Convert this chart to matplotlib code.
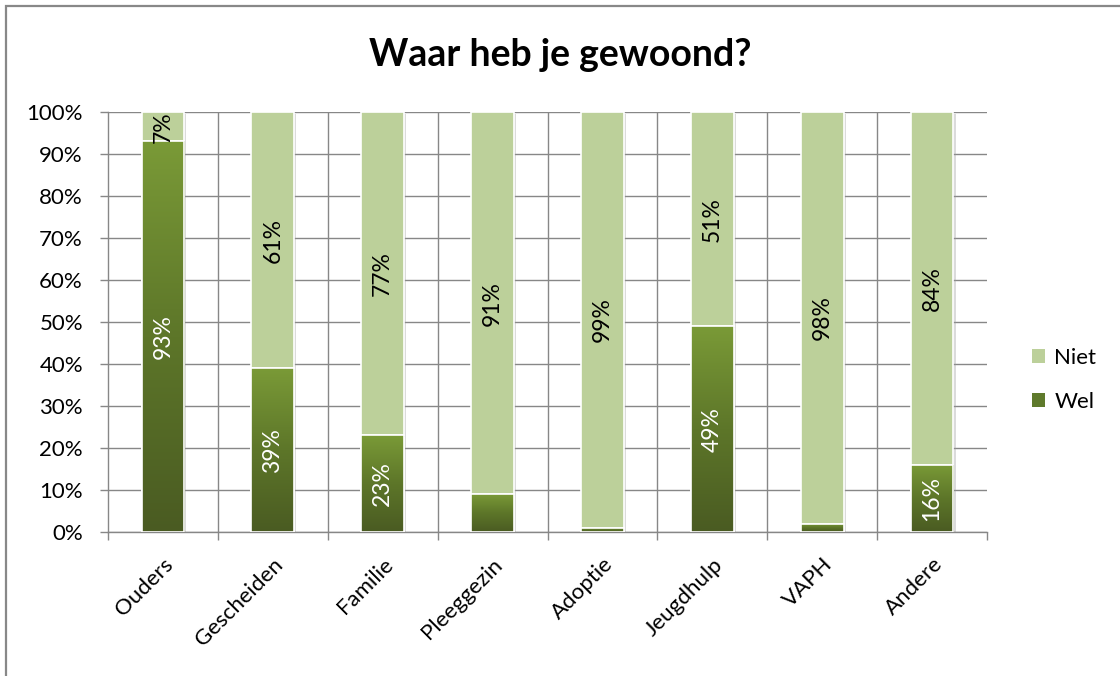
import numpy as np
import matplotlib
matplotlib.use('Agg')
import matplotlib.pyplot as plt
from matplotlib.colors import LinearSegmentedColormap
from matplotlib.patches import Rectangle, Patch
import matplotlib.patheffects as pe

categories = ['Ouders', 'Gescheiden', 'Familie', 'Pleeggezin', 'Adoptie', 'Jeugdhulp', 'VAPH', 'Andere']
wel = [93, 39, 23, 9, 1, 49, 2, 16]
niet = [7, 61, 77, 91, 99, 51, 98, 84]
wel_labels = ['93%', '39%', '23%', '', '', '49%', '', '16%']
niet_labels = ['7%', '61%', '77%', '91%', '99%', '51%', '98%', '84%']
yticks = [0, 10, 20, 30, 40, 50, 60, 70, 80, 90, 100]
ytick_labels = [f'{v}%' for v in yticks]

FONT = ['Lato', 'DejaVu Sans']
plt.rcParams['font.family'] = FONT
FS = 16

W, H = 1120, 676
fig = plt.figure(figsize=(W / 100, H / 100), dpi=100)
ax = fig.add_axes([108 / W, 1 - 532 / H, (987 - 108) / W, (532 - 112) / H])

grid_c = '#878787'
niet_c = '#bcd09a'
wel_mid = '#5f7a2c'
cmap = LinearSegmentedColormap.from_list('wel', ['#4a5b22', '#5d7629', '#7a9a37'])

x = np.arange(len(categories))
bw = 0.39
shadow = [pe.SimplePatchShadow(offset=(1.5, -1.5), shadow_rgbFace='#999999', alpha=0.35), pe.Normal()]

wel_bars = ax.bar(x, wel, bw, color=wel_mid, edgecolor='white', linewidth=1.2, zorder=2)
niet_bars = ax.bar(x, niet, bw, bottom=wel, color=niet_c, edgecolor='white', linewidth=1.2, zorder=2)
for p in list(wel_bars) + list(niet_bars):
    p.set_path_effects(shadow)

grad = np.linspace(0, 1, 256).reshape(-1, 1)
for p in wel_bars:
    x0, y0 = p.get_x(), p.get_y()
    im = ax.imshow(grad, cmap=cmap, origin='lower', aspect='auto',
                   extent=[x0, x0 + p.get_width(), y0, y0 + p.get_height()], zorder=2.5)
    im.set_clip_path(p)
ax.bar(x, wel, bw, fill=False, edgecolor='white', linewidth=1.2, zorder=3)

for i in range(len(categories)):
    if wel_labels[i]:
        ax.text(x[i], wel[i] / 2, wel_labels[i], rotation=90, ha='center', va='center',
                color='white', fontsize=FS + 0.5, zorder=4)
    ax.text(x[i], wel[i] + niet[i] / 2, niet_labels[i], rotation=90, ha='center', va='center',
            color='black', fontsize=FS + 0.5, zorder=4)

ax.set_xlim(-0.5, len(categories) - 0.5)
ax.set_ylim(0, 100)
ax.set_yticks(yticks)
ax.set_yticklabels(ytick_labels)
ax.set_xticks(x)
ax.set_xticklabels(categories, rotation=45, ha='right', rotation_mode='anchor')
ax.set_xticks(np.arange(len(categories) + 1) - 0.5, minor=True)

ax.tick_params(axis='x', which='major', length=0, pad=16, labelsize=FS)
ax.tick_params(axis='x', which='minor', length=6, width=1, color=grid_c, direction='out')
ax.tick_params(axis='y', length=6, width=1, color=grid_c, pad=12, labelsize=FS)

ax.grid(axis='y', which='major', color=grid_c, linewidth=1, zorder=0)
ax.grid(axis='x', which='minor', color=grid_c, linewidth=1, zorder=0)
ax.grid(axis='x', which='major', visible=False)
mt = ax.xaxis.get_minor_ticks()
mt[0].gridline.set_visible(False)
mt[-1].gridline.set_visible(False)
ax.set_axisbelow(True)

for s in ['top', 'right']:
    ax.spines[s].set_visible(False)
for s in ['left', 'bottom']:
    ax.spines[s].set_color(grid_c)
    ax.spines[s].set_linewidth(1)

fig.text(0.5, 1 - 55 / H, 'Waar heb je gewoond?', ha='center', va='center',
         fontsize=27, fontweight='bold')

handles = [Patch(facecolor=niet_c, edgecolor='none'), Patch(facecolor=wel_mid, edgecolor='none')]
fig.legend(handles, ['Niet', 'Wel'], loc='center left', bbox_to_anchor=(1012 / W, 1 - 380 / H),
           frameon=False, fontsize=FS, handlelength=0.6, handleheight=0.6,
           handletextpad=0.4, labelspacing=1.1)

fig.add_artist(Rectangle((6 / W, -0.1), 1.2, 1.1 - 6 / H, transform=fig.transFigure,
                         fill=False, edgecolor='#888888', linewidth=1.6))

fig.savefig('out.png', dpi=100)
